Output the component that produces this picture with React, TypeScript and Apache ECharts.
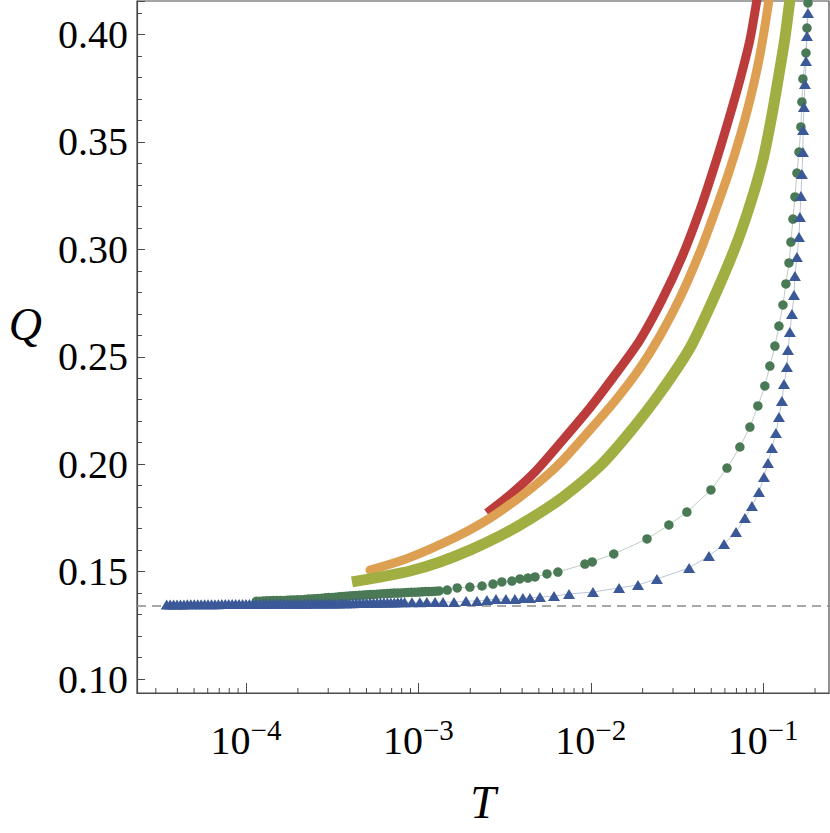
import React, { useEffect, useRef } from "react";
import * as echarts from "echarts";

// ---- axis ranges ----
const xMin = 2.333e-5;
const xMax = 0.241;
const yMin = 0.0935;
const yMax = 0.4156;
const q0 = 0.134;

// ---- thick curves ----
const redT = [
  2.5e-3, 3.4e-3, 4.75e-3, 6.9e-3, 9.89e-3, 1.381e-2, 1.929e-2, 2.588e-2, 3.381e-2, 4.3e-2,
  5.25e-2, 6.25e-2, 7.33e-2, 8.38e-2, 9.2e-2, 9.58e-2,
];
const redQ = [
  0.1773, 0.1857, 0.1964, 0.2113, 0.2262, 0.2415, 0.2578, 0.2764, 0.2964, 0.3183,
  0.3393, 0.3593, 0.3788, 0.3975, 0.4161, 0.4254,
];

const orangeT = [
  5.24e-4, 7.82e-4, 1.168e-3, 1.743e-3, 2.602e-3, 3.885e-3, 5.42e-3, 6.9e-3, 9.89e-3, 1.381e-2,
  1.929e-2, 2.52e-2, 3.292e-2, 4.3e-2, 5.25e-2, 6.25e-2, 7.33e-2, 8.38e-2, 9.33e-2, 0.1011,
  0.1081, 0.1125,
];
const orangeQ = [
  0.1507, 0.1549, 0.1605, 0.167, 0.1749, 0.1847, 0.194, 0.2019, 0.2159, 0.2294,
  0.2448, 0.2597, 0.2774, 0.2988, 0.3174, 0.3346, 0.3523, 0.3695, 0.3858, 0.4012,
  0.4161, 0.4254,
];

const limeT = [
  4.12e-4, 5.99e-4, 8.94e-4, 1.334e-3, 1.992e-3, 2.974e-3, 4.44e-3, 6.9e-3, 1.131e-2, 1.688e-2,
  2.52e-2, 3.762e-2, 5.05e-2, 6.86e-2, 8.38e-2, 9.97e-2, 0.1125, 0.1234, 0.1338, 0.143,
  0.1489,
];
const limeQ = [
  0.1452, 0.1475, 0.1503, 0.1545, 0.16, 0.1666, 0.1745, 0.1847, 0.1992, 0.215,
  0.2331, 0.2541, 0.2755, 0.3006, 0.3206, 0.3416, 0.3625, 0.3812, 0.3984, 0.4161,
  0.4254,
];

// ---- green dots ----
const dotsT = [
  1.148e-4, 1.202e-4, 1.259e-4, 1.318e-4, 1.38e-4, 1.445e-4, 1.514e-4, 1.585e-4, 1.66e-4, 1.738e-4,
  1.82e-4, 1.905e-4, 1.995e-4, 2.089e-4, 2.188e-4, 2.291e-4, 2.399e-4, 2.512e-4, 2.63e-4, 2.754e-4,
  2.884e-4, 3.02e-4, 3.162e-4, 3.311e-4, 3.467e-4, 3.631e-4, 3.802e-4, 3.981e-4, 4.169e-4, 4.365e-4,
  4.571e-4, 4.786e-4, 5.012e-4, 5.248e-4, 5.495e-4, 5.754e-4, 6.026e-4, 6.31e-4, 6.607e-4, 6.918e-4,
  7.244e-4, 7.586e-4, 7.943e-4, 8.318e-4, 8.71e-4, 9.12e-4, 9.55e-4, 1.0e-3, 1.047e-3, 1.096e-3,
  1.148e-3, 1.202e-3, 1.259e-3, 1.318e-3,
  1.47e-3, 1.68e-3, 1.99e-3, 2.34e-3, 2.71e-3, 3.05e-3, 3.49e-3, 3.88e-3, 4.32e-3, 4.75e-3,
  5.57e-3, 6.45e-3, 9.25e-3, 1.02e-2, 1.36e-2, 2.12e-2, 2.84e-2, 3.61e-2, 4.98e-2, 6.17e-2,
  7.33e-2, 8.38e-2, 9.32e-2, 0.1023, 0.1094, 0.117, 0.1235, 0.1303, 0.1355, 0.1412,
  0.1449, 0.1489, 0.1529, 0.157, 0.1614, 0.1656, 0.1678, 0.1701, 0.1772, 0.1796, 0.182,
];
const dotsQ = [
  0.1362, 0.1362, 0.1363, 0.1364, 0.1364, 0.1365, 0.1365, 0.1366, 0.1366, 0.1367,
  0.1368, 0.1368, 0.1369, 0.1369, 0.137, 0.1372, 0.1373, 0.1374, 0.1375, 0.1376,
  0.1378, 0.1379, 0.138, 0.1381, 0.1383, 0.1384, 0.1385, 0.1387, 0.1388, 0.1389,
  0.139, 0.1391, 0.1392, 0.1393, 0.1394, 0.1395, 0.1396, 0.1397, 0.1398, 0.1399,
  0.14, 0.14, 0.1401, 0.1402, 0.1403, 0.1404, 0.1404, 0.1405, 0.1406, 0.1407,
  0.1407, 0.1408, 0.1409, 0.141,
  0.1414, 0.1424, 0.1428, 0.1433, 0.1442, 0.1452, 0.1456, 0.1466, 0.147, 0.1475,
  0.1489, 0.1498, 0.1535, 0.1545, 0.1582, 0.1652, 0.1717, 0.1777, 0.188, 0.1982,
  0.208, 0.2173, 0.2271, 0.2364, 0.2457, 0.255, 0.2643, 0.2741, 0.2839, 0.2937,
  0.3034, 0.3141, 0.3244, 0.3355, 0.3453, 0.357, 0.3686, 0.3793, 0.3914, 0.403, 0.4147,
];

// ---- blue triangles ----
const triT = [
  3.467e-5, 3.631e-5, 3.802e-5, 3.981e-5, 4.169e-5, 4.365e-5, 4.571e-5, 4.786e-5, 5.012e-5, 5.248e-5,
  5.495e-5, 5.754e-5, 6.026e-5, 6.31e-5, 6.607e-5, 6.918e-5, 7.244e-5, 7.586e-5, 7.943e-5, 8.318e-5,
  8.71e-5, 9.12e-5, 9.55e-5,
  1.0e-4, 1.047e-4, 1.096e-4, 1.148e-4, 1.202e-4, 1.259e-4, 1.318e-4, 1.38e-4, 1.445e-4, 1.514e-4,
  1.585e-4, 1.66e-4, 1.738e-4, 1.82e-4, 1.905e-4, 1.995e-4, 2.089e-4, 2.188e-4, 2.291e-4, 2.399e-4,
  2.512e-4, 2.63e-4, 2.754e-4, 2.884e-4, 3.02e-4, 3.162e-4,
  3.311e-4, 3.467e-4, 3.631e-4, 3.802e-4, 3.981e-4, 4.169e-4, 4.365e-4, 4.571e-4, 4.786e-4, 5.012e-4,
  5.248e-4, 5.495e-4, 5.754e-4, 6.026e-4, 6.31e-4, 6.607e-4, 6.918e-4, 7.244e-4, 7.586e-4, 7.943e-4,
  8.318e-4,
  9.18e-4, 1.02e-3, 1.12e-3, 1.25e-3,
  1.39e-3, 1.61e-3, 1.89e-3, 2.19e-3, 2.5e-3, 2.82e-3, 3.22e-3, 3.63e-3, 4.04e-3, 4.44e-3,
  5.07e-3, 6.12e-3, 7.48e-3, 1.03e-2, 1.46e-2, 1.88e-2, 2.42e-2, 3.72e-2, 4.85e-2, 5.93e-2,
  6.96e-2, 7.84e-2, 8.61e-2, 9.46e-2, 0.1011, 0.1067, 0.1125, 0.1186, 0.1235, 0.1285,
  0.1321, 0.1374, 0.1393, 0.1429, 0.1469, 0.151, 0.1529, 0.157, 0.1614, 0.1634,
  0.1656, 0.1678, 0.1701, 0.1705, 0.1724, 0.1748, 0.1772, 0.1796, 0.182,
];
const triQ = [
  0.1347, 0.1347, 0.1347, 0.1347, 0.1347, 0.1347, 0.1348, 0.1348, 0.1348, 0.1348,
  0.1348, 0.1348, 0.1348, 0.1348, 0.1348, 0.1348, 0.1349, 0.1349, 0.1349, 0.1349,
  0.1349, 0.1349, 0.1349,
  0.1349, 0.1349, 0.1349, 0.1349, 0.1349, 0.135, 0.135, 0.135, 0.135, 0.135,
  0.135, 0.135, 0.1351, 0.1351, 0.1351, 0.1351, 0.1351, 0.1351, 0.1351, 0.1352,
  0.1352, 0.1352, 0.1352, 0.1352, 0.1352, 0.1352,
  0.1352, 0.1352, 0.1353, 0.1353, 0.1353, 0.1353, 0.1354, 0.1354, 0.1354, 0.1354,
  0.1355, 0.1355, 0.1355, 0.1355, 0.1356, 0.1356, 0.1356, 0.1356, 0.1357, 0.1357,
  0.1357,
  0.1357, 0.1357, 0.1358, 0.1358,
  0.1358, 0.1358, 0.1363, 0.1363, 0.1368, 0.1372, 0.1372, 0.1372, 0.1377, 0.1377,
  0.1382, 0.1386, 0.1396, 0.1405, 0.1424, 0.1438, 0.1466, 0.1517, 0.1573, 0.1628,
  0.1684, 0.1749, 0.1805, 0.1871, 0.194, 0.2005, 0.2075, 0.2145, 0.222, 0.2294,
  0.2373, 0.2452, 0.2531, 0.2615, 0.2699, 0.2788, 0.2876, 0.2964, 0.3058, 0.3151,
  0.3248, 0.3351, 0.3453, 0.3556, 0.3663, 0.377, 0.3877, 0.3993, 0.41,
];

// ---- minor tick positions of the log axis ----
const decades = [1e-5, 1e-4, 1e-3, 1e-2, 1e-1];
const minorMultipliers = [2, 3, 4, 5, 6, 7, 8, 9];

const zip = (xs: number[], ys: number[]) => {
  const n = Math.min(xs.length, ys.length);
  const out: number[][] = [];
  for (let i = 0; i < n; i++) out.push([xs[i], ys[i]]);
  return out;
};

const AXIS = "#4a4a4a";
const FONT = "Liberation Serif";

export default function App() {
  const ref = useRef<HTMLDivElement>(null);
  useEffect(() => {
    if (!ref.current) return;
    const chart = echarts.init(ref.current, null, { renderer: "svg" });
    const minorTicks: number[][] = [];
    decades.forEach((d) =>
      minorMultipliers.forEach((m) => {
        const v = d * m;
        if (v > xMin && v < xMax) minorTicks.push([v, yMin]);
      })
    );
    const thick = (name: string, t: number[], q: number[], color: string, width: number, cap: string) => ({
      name,
      type: "line",
      data: zip(t, q),
      showSymbol: false,
      smooth: 0.25,
      lineStyle: { color, width, cap, join: "round" },
      silent: true,
    });
    chart.setOption({
      animation: false,
      backgroundColor: "#ffffff",
      grid: {
        left: 137,
        right: 1,
        top: 1,
        bottom: 140,
        outerBoundsMode: "none",
        containLabel: false,
        show: true,
        borderColor: AXIS,
        borderWidth: 1.2,
        backgroundColor: "transparent",
      },
      xAxis: {
        type: "log",
        logBase: 10,
        min: xMin,
        max: xMax,
        axisLine: { show: true, lineStyle: { color: AXIS, width: 1.2 } },
        axisTick: { show: true, inside: true, length: 10, lineStyle: { color: AXIS, width: 1 } },
        splitLine: { show: false },
        axisLabel: {
          showMinLabel: false,
          showMaxLabel: false,
          margin: 22,
          formatter: (v: number) => {
            const e = Math.round(Math.log10(v));
            return "{b|10}{s|\u2212" + Math.abs(e) + "}";
          },
          rich: {
            b: { fontSize: 40, fontFamily: FONT, color: "#000" },
            s: { fontSize: 29, fontFamily: FONT, color: "#000", padding: [0, 0, 22, 0] },
          },
        },
        name: "T",
        nameLocation: "middle",
        nameGap: 86,
        nameTextStyle: { fontFamily: FONT, fontStyle: "italic", fontSize: 46, color: "#000" },
      },
      yAxis: {
        type: "value",
        min: yMin,
        max: yMax,
        axisLine: { show: true, lineStyle: { color: AXIS, width: 1.2 } },
        axisTick: { show: true, inside: true, length: 8, lineStyle: { color: AXIS, width: 1 } },
        minorTick: { show: true, splitNumber: 5, length: 5, lineStyle: { color: AXIS, width: 1 } },
        splitLine: { show: false },
        axisLabel: {
          showMinLabel: false,
          showMaxLabel: false,
          margin: 9,
          fontSize: 40,
          fontFamily: FONT,
          color: "#000",
          formatter: (v: number) => v.toFixed(2),
        },
        name: "Q",
        nameLocation: "middle",
        nameRotate: 0,
        nameGap: 95,
        nameTextStyle: {
          fontFamily: FONT,
          fontStyle: "italic",
          fontSize: 46,
          color: "#000",
          verticalAlign: "bottom",
          lineHeight: 46,
        },
      },
      series: [
        {
          name: "q0",
          type: "line",
          data: [[xMin, q0], [xMax, q0]],
          showSymbol: false,
          silent: true,
          lineStyle: { color: "#8a8a8a", type: [9, 6], width: 1.3 },
        },
        thick("red", redT, redQ, "#bc3b3b", 9, "butt"),
        thick("orange", orangeT, orangeQ, "#dda052", 9, "round"),
        thick("lime", limeT, limeQ, "#a0ae42", 11, "butt"),
        {
          name: "dots",
          type: "line",
          data: zip(dotsT, dotsQ),
          symbol: "circle",
          symbolSize: 9.5,
          showSymbol: true,
          showAllSymbol: true,
          lineStyle: { color: "#b5c6ba", width: 0.9 },
          itemStyle: { color: "#4a7a55" },
          silent: true,
        },
        {
          name: "triangles",
          type: "line",
          data: zip(triT, triQ),
          symbol: "triangle",
          symbolSize: [12, 10],
          showSymbol: true,
          showAllSymbol: true,
          lineStyle: { color: "#b3bdd4", width: 0.9 },
          itemStyle: { color: "#3b5998" },
          silent: true,
        },
        {
          name: "minorTicks",
          type: "custom",
          silent: true,
          clip: false,
          z: 10,
          data: minorTicks,
          encode: { x: 0, y: 1 },
          renderItem: (_p: any, api: any) => {
            const p = api.coord([api.value(0), api.value(1)]);
            return {
              type: "line",
              shape: { x1: p[0], y1: p[1], x2: p[0], y2: p[1] - 5 },
              style: { stroke: AXIS, lineWidth: 1 },
            };
          },
        },
      ],
    });
    return () => chart.dispose();
  }, []);
  return (
    <div
      ref={ref}
      style={{ position: "absolute", left: 0, top: 0, width: 830, height: 833 }}
    />
  );
}
